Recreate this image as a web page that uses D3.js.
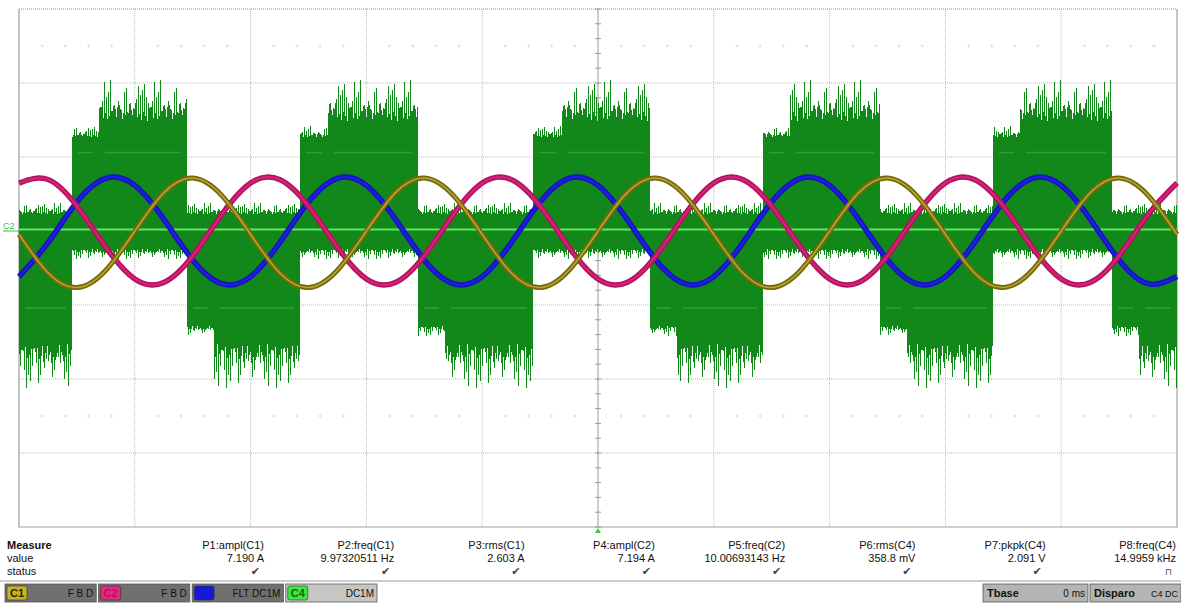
<!DOCTYPE html>
<html>
<head>
<meta charset="utf-8">
<script src="https://cdn.jsdelivr.net/npm/d3@7"></script>
<style>
  html,body{margin:0;padding:0;background:#fff;}
  svg{display:block;font-family:"Liberation Sans",Arial,sans-serif;}
</style>
</head>
<body>
<svg id="chart" width="1181" height="607"></svg>
<script>
// ---------------- DATA ----------------
// time samples (ms), 50 ms/div, 10 divisions
const sampleTimes = d3.range(0, 500.01, 12.5);
// C1 (yellow) current, A
const c1Current = [-0.23,-2.82,-3.82,-2.65,-0.01,2.58,3.58,2.41,
                   -0.23,-2.82,-3.82,-2.65,-0.01,2.58,3.58,2.41,
                   -0.23,-2.82,-3.82,-2.65,-0.01,2.58,3.58,2.41,
                   -0.23,-2.82,-3.82,-2.65,-0.01,2.58,3.58,2.41,
                   -0.23,-2.82,-3.82,-2.65,-0.01,2.58,3.58,2.41,-0.23];
// C2 (magenta) current, A
const c2Current = [3.24,3.48,1.68,-1.10,-3.24,-3.48,-1.68,1.10,
                   3.24,3.48,1.68,-1.10,-3.24,-3.48,-1.68,1.10,
                   3.24,3.48,1.68,-1.10,-3.24,-3.48,-1.68,1.10,
                   3.24,3.48,1.68,-1.10,-3.24,-3.48,-1.68,1.10,
                   3.24,3.48,1.68,-1.10,-3.24,-3.48,-1.68,1.10,3.24];
// C3 (blue) current, A
const c3Current = [-3.08,-0.80,1.96,3.56,3.08,0.80,-1.96,-3.56,
                   -3.08,-0.80,1.96,3.56,3.08,0.80,-1.96,-3.56,
                   -3.08,-0.80,1.96,3.56,3.08,0.80,-1.96,-3.56,
                   -3.08,-0.80,1.96,3.56,3.08,0.80,-1.96,-3.56,
                   -3.08,-0.80,1.96,3.56,3.08,0.80,-1.96,-3.56,-3.08];

// C4 (green) PWM voltage envelope: segment start times (ms) and states
const c4Start = [0,22.9,34.5,72.5,84.0,121.3,133.4,172.3,184.0,221.9,234.5,272.5,
                 284.0,321.2,333.0,371.8,383.5,420.5,432.0,471.9,483.5];
const c4State = ["L2","H1","H2","L1","L2","H1","H2","L1","L2","H1","H2","L1",
                 "L2","H1","H2","L1","L2","H1","H2","L1","L2"];
// envelope levels per state (V)
const stateNames   = ["H1","H2","L1","L2"];
const stateTop     = [0.63, 0.74, 0.11, 0.11];
const stateTopPeak = [0.71, 1.02, 0.19, 0.19];
const stateBot     = [-0.12,-0.12,-0.64,-0.76];
const stateBotPeak = [-0.19,-0.19,-0.71,-1.06];
const stateMid     = [0.53, 0.53, -0.52, -0.52];
const c4Baseline = 0.01;

// measurement table
const measureNames  = ["P1:ampl(C1)","P2:freq(C1)","P3:rms(C1)","P4:ampl(C2)","P5:freq(C2)","P6:rms(C4)","P7:pkpk(C4)","P8:freq(C4)"];
const measureValues = ["7.190 A","9.97320511 Hz","2.603 A","7.194 A","10.00693143 Hz","358.8 mV","2.091 V","14.9959 kHz"];
const measureStatus = ["\u2714","\u2714","\u2714","\u2714","\u2714","\u2714","\u2714","\u2293"];
const rowLabels = ["Measure","value","status"];

const channelNames = ["C1","C2","C3","C4"];
const channelInfo  = ["F B D","F B D","FLT DC1M","DC1M"];

// ---------------- LAYOUT / STYLE ----------------
const svg = d3.select("#chart");
const P = {x0:19, x1:1177, y0:9, y1:527};
const x  = d3.scaleLinear().domain([0,500]).range([P.x0,P.x1]);
const yA = d3.scaleLinear().domain([-20,15]).range([P.y1,P.y0]);   // 5 A/div
const yV = d3.scaleLinear().domain([-2,1.5]).range([P.y1,P.y0]);   // 0.5 V/div
const GREEN = "#12881a";

const plot = svg.append("g");
plot.append("rect").attr("x",P.x0).attr("y",P.y0).attr("width",P.x1-P.x0).attr("height",P.y1-P.y0).attr("fill","#fff");

// grid
const gridX = d3.range(50,500,50);
const gridY = d3.range(-15,15.01,5);
plot.selectAll(".gx").data(gridX).join("line")
  .attr("x1",d=>x(d)).attr("x2",d=>x(d)).attr("y1",P.y0).attr("y2",P.y1)
  .attr("stroke", d=>d===250?"#9a9a9a":"#b8b8b8").attr("stroke-width",1)
  .attr("stroke-dasharray", d=>d===250?null:"1,1");
plot.selectAll(".gy").data(gridY).join("line")
  .attr("x1",P.x0).attr("x2",P.x1).attr("y1",d=>yA(d)).attr("y2",d=>yA(d))
  .attr("stroke","#b8b8b8").attr("stroke-dasharray","1,1");
plot.append("line").attr("x1",P.x0).attr("x2",P.x1).attr("y1",yA(15)).attr("y2",yA(15))
  .attr("stroke","#b0b0b0").attr("stroke-dasharray","1,1");
plot.append("path").attr("d",`M${P.x0},${P.y0}V${P.y1}H${P.x1}V${P.y0}`)
  .attr("fill","none").attr("stroke","#a0a0a0").attr("stroke-width",1.2);

// centre axis ticks
const vTicks = d3.range(-20,15.01,1);
plot.selectAll(".vt").data(vTicks).join("line")
  .attr("x1",x(250)-3).attr("x2",x(250)+3).attr("y1",d=>yA(d)).attr("y2",d=>yA(d))
  .attr("stroke","#9a9a9a");
const hTicks = d3.range(0,500.01,10);
plot.selectAll(".ht").data(hTicks).join("line")
  .attr("x1",d=>x(d)).attr("x2",d=>x(d)).attr("y1",yA(0)-3).attr("y2",yA(0)+3)
  .attr("stroke","#9a9a9a");
// faint sub-division crosses
const crossRows = [12.5,-12.5];
const crossCols = hTicks.filter(d=>d%50!==0);
crossRows.forEach(r=>{
  plot.selectAll(null).data(crossCols).join("path")
    .attr("d",d=>`M${x(d)-1.5},${yA(r)}h3M${x(d)},${yA(r)-1.5}v3`)
    .attr("stroke","#dcdcdc").attr("stroke-width",1);
});

// ---------------- C4 green PWM ----------------
const spikeShape = [0.35,0.8,0.5,0.2,0.95,0.45,0.6,0.15,0.7,0.3,1,0.55,0.25,0.85,0.4,0.65,0.1,0.75,0.5,0.9,0.3,0.6,0.05,0.45,0.7];
const g4 = plot.append("g");
const segs = c4Start.map((t0,i)=>{
  const s = stateNames.indexOf(c4State[i]);
  return {t0, t1: i<c4Start.length-1 ? c4Start[i+1] : 500, s};
});
segs.forEach(seg=>{
  const xa = Math.round(x(seg.t0)), xb = Math.round(x(seg.t1));
  const top = yV(stateTop[seg.s]), bot = yV(stateBot[seg.s]);
  const topP = yV(stateTopPeak[seg.s]), botP = yV(stateBotPeak[seg.s]);
  g4.append("rect").attr("x",xa).attr("y",top).attr("width",xb-xa).attr("height",bot-top).attr("fill",GREEN);
  let d = "";
  for (let px = xa; px < xb; px += 1) {
    const k = px;
    const damp = (k % 2 === 0) ? 1 : 0.45;
    const fu = spikeShape[k % spikeShape.length] * damp;
    const fd = spikeShape[(k*7+3) % spikeShape.length] * damp;
    d += `M${px+0.5},${top+1}V${top-(top-topP)*fu}`;
    d += `M${px+0.5},${bot-1}V${bot+(botP-bot)*fd}`;
  }
  g4.append("path").attr("d",d).attr("stroke",GREEN).attr("stroke-width",1)
    .attr("shape-rendering","crispEdges").attr("fill","none");
  // faint average trace inside block
  g4.append("line").attr("x1",xa+6).attr("x2",xb-6)
    .attr("y1",yV(stateMid[seg.s])).attr("y2",yV(stateMid[seg.s]))
    .attr("stroke","#5cc45e").attr("stroke-width",1.5).attr("opacity",0.4);
});
// baseline bright line
g4.append("line").attr("x1",P.x0).attr("x2",P.x1).attr("y1",yV(c4Baseline)).attr("y2",yV(c4Baseline))
  .attr("stroke","#5fe85f").attr("stroke-width",1.8);

// ---------------- current traces ----------------
const line = d3.line().x((d,i)=>x(sampleTimes[i])).y(d=>yA(d)).curve(d3.curveNatural);
const traces = plot.append("g").attr("fill","none").attr("stroke-linejoin","round");
traces.append("path").attr("d",line(c3Current)).attr("stroke","#1414c4").attr("stroke-width",5.5);
traces.append("path").attr("d",line(c3Current)).attr("stroke","#2020dc").attr("stroke-width",2);
traces.append("path").attr("d",line(c2Current)).attr("stroke","#b5125e").attr("stroke-width",5.5);
traces.append("path").attr("d",line(c2Current)).attr("stroke","#d42378").attr("stroke-width",2);
traces.append("path").attr("d",line(c1Current)).attr("stroke","#776808").attr("stroke-width",5);
traces.append("path").attr("d",line(c1Current)).attr("stroke","#b5a636").attr("stroke-width",1.6);

// C2 ground marker
svg.append("text").attr("x",3).attr("y",yA(0)-2).attr("font-size",9).attr("fill","#3fbf3f").text("C2");
svg.append("line").attr("x1",3).attr("x2",P.x0).attr("y1",yA(0)).attr("y2",yA(0)).attr("stroke","#3fbf3f");

// trigger marker
svg.append("path").attr("d",`M${x(250)-3},${P.y1+6}L${x(250)},${P.y1+1}L${x(250)+3},${P.y1+6}Z`).attr("fill","#33cc33");

// ---------------- measurement table ----------------
const colX = d3.scalePoint().domain(measureNames).range([264,1176]);
const rowY = [549,562,575];
const tbl = svg.append("g").attr("font-size",11).attr("fill","#111");
rowLabels.forEach((r,i)=>{
  tbl.append("text").attr("x",7).attr("y",rowY[i]).attr("font-weight",i===0?"bold":"normal").text(r);
});
tbl.selectAll(".mn").data(measureNames).join("text")
  .attr("x",d=>colX(d)).attr("y",rowY[0]).attr("text-anchor","end").text(d=>d);
tbl.selectAll(".mv").data(measureValues).join("text")
  .attr("x",(d,i)=>colX(measureNames[i])).attr("y",rowY[1]).attr("text-anchor","end").text(d=>d);
tbl.selectAll(".ms").data(measureStatus).join("text")
  .attr("x",(d,i)=>colX(measureNames[i])-4).attr("y",rowY[2]).attr("text-anchor","end")
  .attr("font-family","DejaVu Sans").attr("font-size",(d,i)=>i===7?9:11).attr("fill","#444").text(d=>d);
svg.append("line").attr("x1",0).attr("x2",1181).attr("y1",581).attr("y2",581).attr("stroke","#9c9c9c").attr("stroke-width",1.2);

// ---------------- channel boxes ----------------
const chX = d3.scaleBand().domain(channelNames).range([5,377]).paddingInner(0.025);
const chFill = ["#707070","#707070","#707070","#c6c6c6"];
const chLabelFill = ["#c8b41e","#e8287e","#1818d8","#3ee83e"];
const chLabelText = ["#222","#b0105a","#1818d8","#116611"];
const cb = svg.append("g").attr("font-size",10);
channelNames.forEach((c,i)=>{
  const bx = chX(c), bw = chX.bandwidth();
  cb.append("rect").attr("x",bx).attr("y",584).attr("width",bw).attr("height",18)
    .attr("fill",chFill[i]).attr("stroke","#555").attr("stroke-width",0.8);
  cb.append("rect").attr("x",bx+2).attr("y",586).attr("width",20).attr("height",14).attr("rx",2)
    .attr("fill",chLabelFill[i]).attr("stroke","#333").attr("stroke-width",0.6);
  cb.append("text").attr("x",bx+12).attr("y",597).attr("text-anchor","middle").attr("font-size",11)
    .attr("font-weight","bold").attr("fill",chLabelText[i]).text(c);
  cb.append("text").attr("x",bx+bw-3).attr("y",597).attr("text-anchor","end").attr("fill","#111").text(channelInfo[i]);
});
// Tbase / Disparo
const tb = svg.append("g").attr("font-size",10);
[[983,105,"Tbase","0 ms"],[1090,91,"Disparo","C4 DC"]].forEach(b=>{
  tb.append("rect").attr("x",b[0]).attr("y",584).attr("width",b[1]).attr("height",18)
    .attr("fill","#b4b4b4").attr("stroke","#555").attr("stroke-width",0.8);
  tb.append("text").attr("x",b[0]+4).attr("y",597).attr("font-weight","bold").attr("font-size",11).attr("fill","#111").text(b[2]);
  tb.append("text").attr("x",b[0]+b[1]-3).attr("y",597).attr("text-anchor","end").attr("font-size",b[2]==="Disparo"?9:10).attr("fill","#111").text(b[3]);
});
</script>
</body>
</html>
